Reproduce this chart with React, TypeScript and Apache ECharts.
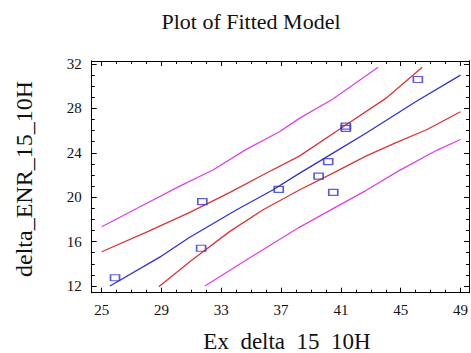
import React, { useEffect, useRef } from "react";
import * as echarts from "echarts";

// Observed values (Ex_delta_15_10H, delta_ENR_15_10H)
const observed: [number, number][] = [
  [25.89, 12.75],
  [31.73, 19.6],
  [31.65, 15.4],
  [36.84, 20.71],
  [39.51, 21.9],
  [40.15, 23.2],
  [40.49, 20.44],
  [41.33, 26.2],
  [41.33, 26.4],
  [46.15, 30.6],
];

// Fitted regression line
const fitted: [number, number][] = [
  [25.55, 12.0],
  [29.0, 14.7],
  [30.89, 16.39],
  [34.0, 18.85],
  [36.44, 20.65],
  [38.22, 22.15],
  [40.44, 23.95],
  [42.67, 25.76],
  [46.0, 28.6],
  [49.0, 31.0],
];

// Confidence limits for the mean
const confUpper: [number, number][] = [
  [25.0, 15.09],
  [28.0, 16.85],
  [30.89, 18.64],
  [33.55, 20.41],
  [35.77, 22.0],
  [38.22, 23.7],
  [41.33, 26.5],
  [44.0, 28.9],
  [46.44, 31.7],
];
const confLower: [number, number][] = [
  [28.82, 11.94],
  [30.89, 14.19],
  [33.55, 16.9],
  [35.77, 18.85],
  [38.22, 20.65],
  [40.44, 22.15],
  [42.67, 23.7],
  [44.5, 24.8],
  [46.76, 26.1],
  [49.0, 27.7],
];

// Prediction limits
const predUpper: [number, number][] = [
  [25.0, 17.34],
  [27.5, 19.1],
  [30.22, 21.0],
  [32.44, 22.45],
  [34.67, 24.31],
  [36.89, 25.9],
  [38.22, 27.1],
  [40.44, 28.82],
  [43.49, 31.7],
];
const predLower: [number, number][] = [
  [31.9, 12.0],
  [34.67, 14.35],
  [38.22, 17.29],
  [40.44, 18.95],
  [42.67, 20.6],
  [44.89, 22.4],
  [47.44, 24.25],
  [49.0, 25.2],
];

const xMajorTicks = [25, 29, 33, 37, 41, 45, 49];
const xMinorTicks = [
  25, 26, 27, 28, 29, 30, 31, 32, 33, 34, 35, 36, 37, 38, 39, 40, 41, 42, 43,
  44, 45, 46, 47, 48, 49,
];
const yMajorTicks = [12, 16, 20, 24, 28, 32];
const yMinorTicks = [
  12, 13, 14, 15, 16, 17, 18, 19, 20, 21, 22, 23, 24, 25, 26, 27, 28, 29, 30,
  31, 32,
];

const X_MIN = 24.33;
const X_MAX = 49.57;
const Y_MIN = 11.4;
const Y_MAX = 32.27;

const FONT = "'Liberation Serif', 'Times New Roman', serif";

// Axis titles; the x title's word gaps use en spaces
const X_TITLE = "Ex\u2002delta\u200215\u200210H";
const Y_TITLE = "delta_ENR_15_10H";
const CHART_TITLE = "Plot of Fitted Model";

function tickAxis(
  position: string,
  min: number,
  max: number,
  ticks: number[],
  length: number,
  extra: any = {}
) {
  return {
    type: "value",
    position,
    min,
    max,
    axisLine: { show: true, onZero: false, lineStyle: { color: "#000", width: 1 } },
    axisTick: {
      show: true,
      inside: true,
      length,
      customValues: ticks,
      lineStyle: { color: "#000", width: 1 },
    },
    axisLabel: { show: false },
    splitLine: { show: false },
    ...extra,
  };
}

export default function App() {
  const ref = useRef<HTMLDivElement>(null);

  useEffect(() => {
    if (!ref.current) return;
    const chart = echarts.init(ref.current, null, { renderer: "svg" });

    const labelStyle = {
      show: true,
      fontFamily: FONT,
      fontSize: 15,
      color: "#111",
    };

    const line = (data: [number, number][], color: string) => ({
      type: "line",
      data,
      showSymbol: false,
      symbol: "none",
      lineStyle: { color, width: 1.3 },
      xAxisIndex: 0,
      yAxisIndex: 0,
      z: 2,
    });

    chart.setOption({
      animation: false,
      backgroundColor: "#fff",
      grid: { left: 91.7, right: 1, top: 61, bottom: 60.3, containLabel: false },
      graphic: [
        {
          type: "text",
          x: 251,
          y: 21,
          style: {
            text: CHART_TITLE,
            fontFamily: FONT,
            fontSize: 22,
            fill: "#111",
            align: "center",
            verticalAlign: "middle",
          },
        },
        {
          type: "text",
          x: 287,
          y: 353,
          style: {
            text: X_TITLE,
            fontFamily: FONT,
            fontSize: 23,
            fill: "#111",
            align: "center",
            verticalAlign: "bottom",
          },
        },
        {
          type: "text",
          x: 24,
          y: 179,
          rotation: Math.PI / 2,
          style: {
            text: Y_TITLE,
            fontFamily: FONT,
            fontSize: 24,
            fill: "#111",
            align: "center",
            verticalAlign: "middle",
          },
        },
      ],
      xAxis: [
        tickAxis("bottom", X_MIN, X_MAX, xMajorTicks, 5, {
          axisLabel: { ...labelStyle, margin: 10, customValues: xMajorTicks },
        }),
        tickAxis("bottom", X_MIN, X_MAX, xMinorTicks, 3),
        tickAxis("top", X_MIN, X_MAX, xMajorTicks, 5),
        tickAxis("top", X_MIN, X_MAX, xMinorTicks, 3),
      ],
      yAxis: [
        tickAxis("left", Y_MIN, Y_MAX, yMajorTicks, 5, {
          axisLabel: { ...labelStyle, margin: 10, customValues: yMajorTicks },
        }),
        tickAxis("left", Y_MIN, Y_MAX, yMinorTicks, 3),
        tickAxis("right", Y_MIN, Y_MAX, yMajorTicks, 5),
        tickAxis("right", Y_MIN, Y_MAX, yMinorTicks, 3),
      ],
      series: [
        line(predUpper, "#e040e8"),
        line(predLower, "#e040e8"),
        line(confUpper, "#dc3434"),
        line(confLower, "#dc3434"),
        line(fitted, "#3030d8"),
        {
          type: "scatter",
          data: observed,
          symbol: "rect",
          symbolSize: [9, 6],
          itemStyle: { color: "rgba(0,0,0,0)", borderColor: "#3434d0", borderWidth: 1.4 },
          xAxisIndex: 0,
          yAxisIndex: 0,
          z: 3,
        },
      ],
    });

    return () => chart.dispose();
  }, []);

  return (
    <div
      ref={ref}
      style={{ position: "absolute", left: 0, top: 0, width: 471, height: 353 }}
    />
  );
}
